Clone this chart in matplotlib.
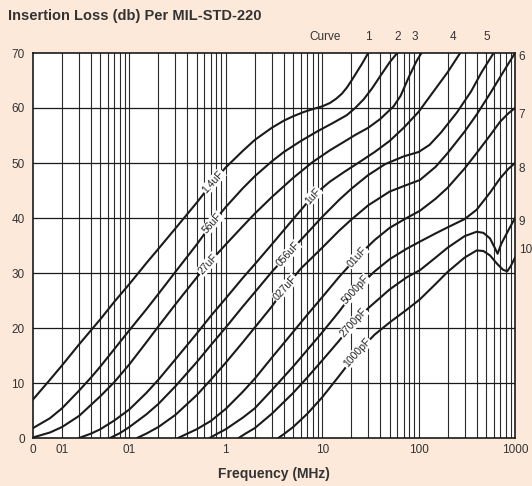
import matplotlib
matplotlib.use('Agg')
import matplotlib.pyplot as plt
import numpy as np

plt.rcParams['font.family'] = ['Liberation Sans', 'DejaVu Sans']

# ---------------- data (frequency MHz, insertion loss dB) ----------------
c1_f = [0.01, 0.015, 0.02, 0.03, 0.05, 0.07, 0.1, 0.15, 0.2, 0.3, 0.5, 0.74, 1, 1.5, 2, 3, 4, 5,
        6.5, 8, 10, 12, 14, 16, 18, 20, 23, 26, 30]
c1_db = [7, 10.6, 13.2, 17, 21.6, 24.8, 28, 31.8, 34.4, 38.1, 42.8, 46.6, 49.2, 52.2, 54.2, 56.4,
         57.7, 58.5, 59.3, 59.8, 60.3, 60.9, 61.7, 62.6, 63.7, 64.9, 66.6, 68.1, 70]

c2_f = [0.01, 0.015, 0.02, 0.03, 0.04, 0.05, 0.07, 0.1, 0.15, 0.2, 0.3, 0.5, 0.72, 1, 1.5, 2, 3, 4,
        6, 9, 13, 18, 22, 27, 33, 40, 50, 60]
c2_db = [1.8, 3.6, 5.4, 8.6, 11, 13, 16.2, 19.6, 23.4, 26.2, 30.2, 35.2, 39, 42, 45.4, 47.6, 50.3,
         52, 54, 55.8, 57.3, 58.7, 60, 61.6, 63.6, 65.8, 68.3, 70]

c3_f = [0.01, 0.015, 0.02, 0.03, 0.05, 0.07, 0.1, 0.15, 0.2, 0.3, 0.5, 0.65, 1, 1.5, 2, 3, 5, 8, 12,
        17, 22, 30, 40, 55, 65, 80, 95, 107]
c3_db = [0.1, 1, 2, 4, 7.6, 10.2, 13.4, 17.4, 20.3, 24.3, 29.2, 31.6, 35.2, 38.5, 40.8, 43.8, 47.3,
         50.2, 52.3, 53.9, 55.1, 56.4, 58, 60.3, 62.2, 65.8, 68.5, 70]

c4_f = [0.03, 0.04, 0.05, 0.07, 0.1, 0.15, 0.2, 0.3, 0.5, 0.7, 1, 1.5, 2, 3, 5, 8, 12, 17, 25, 35,
        50, 70, 100, 140, 200, 270]
c4_db = [0, 0.8, 1.6, 3.2, 5.2, 8.2, 10.6, 14.3, 19, 22.2, 25.4, 29.1, 31.6, 35.2, 39.8, 44, 46.6,
         48.4, 50.3, 52, 54, 56.4, 59.3, 62.8, 66.5, 70]

c5_f = [0.063, 0.08, 0.1, 0.15, 0.2, 0.3, 0.5, 0.7, 1, 1.5, 2, 3, 4.4, 6, 10, 15, 20, 30, 45, 70,
        100, 130, 170, 250, 350, 450, 600]
c5_db = [0, 0.9, 2, 4.3, 6.2, 9.4, 13.8, 16.9, 20.1, 23.9, 26.5, 30.2, 33.4, 36, 40.2, 43.3, 45.3,
         47.8, 49.8, 51.2, 52, 53.3, 55.5, 59.2, 63, 66.5, 70]

c6_f = [0.12, 0.15, 0.2, 0.3, 0.5, 0.7, 1, 1.5, 2, 3, 4.1, 6, 10, 15, 20, 30, 50, 75, 103, 150, 200,
        300, 400, 550, 700, 850, 1000]
c6_db = [0, 0.8, 2, 4.2, 7.8, 10.6, 13.7, 17.4, 20.1, 23.9, 27.3, 30.8, 34.6, 37.7, 39.7, 42.3, 44.8,
         46, 46.9, 49.3, 51.8, 55.7, 58.8, 62.6, 65.6, 68, 70]

c7_f = [0.32, 0.4, 0.5, 0.7, 1, 1.5, 2, 3, 5, 7, 10, 15, 23, 35, 50, 75, 103, 150, 200, 300, 400,
        550, 700, 850, 1000]
c7_db = [0, 0.8, 1.6, 3.1, 5.3, 8.4, 10.8, 14.6, 19.3, 22.4, 25.6, 29.3, 32.9, 36, 38.2, 40, 41.3,
         43.5, 45.5, 49, 51.8, 55, 57.5, 59, 60]

c8_f = [0.68, 0.8, 1, 1.5, 2, 3, 5, 7, 10, 15, 22, 35, 50, 75, 103, 150, 200, 300, 400, 550, 700,
        850, 1000]
c8_db = [0, 0.7, 1.6, 3.7, 5.4, 8.7, 13, 16, 19.2, 23, 26.9, 30.3, 32.5, 34.4, 35.7, 37.2, 38.3,
         39.8, 41.5, 44.6, 47.2, 48.9, 50]

c9_f = [1.36, 1.6, 2, 3, 5, 7, 10, 15, 21, 30, 50, 75, 103, 150, 200, 300, 400, 470, 550, 620, 660,
        720, 850, 1000]
c9_db = [0, 0.8, 1.8, 4.4, 8.2, 11, 14.1, 17.7, 20.9, 23.6, 27, 29.2, 30.5, 32.8, 34.6, 36.7, 37.5,
         37.3, 36.3, 34.5, 33.5, 35.3, 37.7, 40]

c10_f = [3.5, 4, 5, 7, 10, 15, 23, 35, 50, 75, 103, 150, 200, 300, 400, 470, 550, 650, 750, 830, 900,
         1000]
c10_db = [0, 0.7, 2, 4.4, 7.4, 11.3, 15.5, 18.8, 21, 23.3, 25.2, 28, 30.2, 32.8, 34.1, 34, 33.2, 31.7,
          30.6, 30.3, 31.2, 32.8]

curves_f = [c1_f, c2_f, c3_f, c4_f, c5_f, c6_f, c7_f, c8_f, c9_f, c10_f]
curves_db = [c1_db, c2_db, c3_db, c4_db, c5_db, c6_db, c7_db, c8_db, c9_db, c10_db]

# capacitor labels and the frequency (MHz) at which each sits on its curve
cap_labels = ['1.4uF', '56uF', '27uF', '1uF', '056uF', '027uF', '01uF', '5000pF', '2700pF', '1000pF']
cap_lab_f = [0.74, 0.72, 0.65, 8.0, 4.4, 4.1, 23, 22, 21, 23]

right_labels = ['6', '7', '8', '9', '10']
right_lab_db = [69.3, 58.7, 49.0, 39.3, 34.2]

top_labels = ['Curve', '1', '2', '3', '4', '5']
top_lab_f = [10.7, 30, 60, 92, 228, 513]

x_tick_pos = [0.01, 0.02, 0.1, 1, 10, 100, 1000]
x_tick_lab = ['0', '01', '01', '1', '10', '100', '1000']
y_ticks = [0, 10, 20, 30, 40, 50, 60, 70]

# ---------------- figure ----------------
W, H = 532, 486
fig = plt.figure(figsize=(W / 100, H / 100), dpi=100, facecolor='#FDE9DA')
ax = fig.add_axes([33 / W, 48 / H, 482 / W, 385 / H])
ax.set_facecolor('white')
ax.set_xscale('log')
ax.set_xlim(0.01, 1000)
ax.set_ylim(0, 70)

# grid
for dec in [0.01, 0.1, 1, 10, 100]:
    for m in range(1, 10):
        v = dec * m
        if 0.01 < v < 1000:
            ax.axvline(v, color='#2a2a2a', lw=0.8, zorder=1)
for yv in y_ticks[1:-1]:
    ax.axhline(yv, color='#1a1a1a', lw=0.9, zorder=1)

for f, d in zip(curves_f, curves_db):
    ax.plot(f, d, color='#1a1a1a', lw=1.5, zorder=3, solid_joinstyle='round')

for lab, lf, f, d in zip(cap_labels, cap_lab_f, curves_f, curves_db):
    ld = np.interp(np.log10(lf), np.log10(f), d)
    ax.text(lf, ld, lab, rotation=48, rotation_mode='anchor', ha='center', va='center',
            fontsize=7.5, color='#222', zorder=4,
            bbox=dict(facecolor='white', edgecolor='none', pad=0.6))

ax.set_xticks(x_tick_pos)
ax.set_xticklabels(x_tick_lab)
ax.xaxis.set_minor_locator(matplotlib.ticker.NullLocator())
ax.set_yticks(y_ticks)
ax.tick_params(axis='both', length=0, labelsize=8.5, labelcolor='#333', pad=4)
ax.tick_params(axis='y', pad=6)
for s in ax.spines.values():
    s.set_color('#1a1a1a')
    s.set_linewidth(1.2)
    s.set_zorder(5)

trans_r = matplotlib.transforms.blended_transform_factory(ax.transAxes, ax.transData)
for lab, ld in zip(right_labels, right_lab_db):
    ax.text(1.008, ld, lab, transform=trans_r, ha='left', va='center', fontsize=8.5,
            color='#333', clip_on=False)

for lab, lf in zip(top_labels, top_lab_f):
    ax.text(lf, 72.9, lab, ha='center', va='center', fontsize=8.5, color='#333', clip_on=False)

ax.set_xlabel('Frequency (MHz)', fontsize=10, fontweight='bold', color='#333', labelpad=8)
fig.text(8 / W, 1 - 16 / H, 'Insertion Loss (db) Per MIL-STD-220', fontsize=10.5,
         fontweight='bold', color='#333', ha='left', va='center')

fig.savefig('out.png', dpi=100, facecolor=fig.get_facecolor())
